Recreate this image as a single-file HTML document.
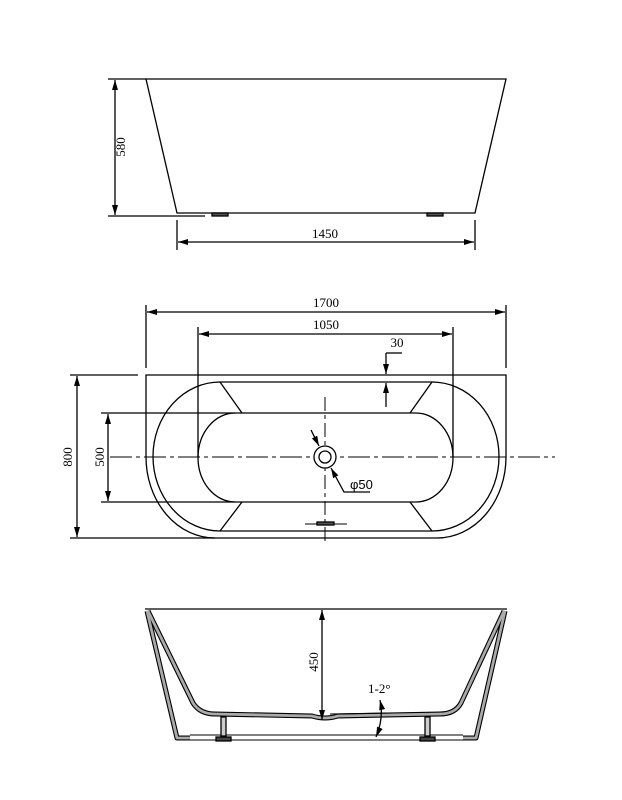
<!DOCTYPE html>
<html><head><meta charset="utf-8"><style>
html,body{margin:0;padding:0;background:#fff;}
svg{display:block;}
text{font-family:"Liberation Serif",serif;font-size:13px;fill:#000;}
.s{font-family:"Liberation Sans",sans-serif;}
</style></head><body>
<svg width="622" height="800" viewBox="0 0 622 800" xmlns="http://www.w3.org/2000/svg">
<defs>
<marker id="a" viewBox="0 0 10 6" refX="10" refY="3" markerWidth="10" markerHeight="6" orient="auto-start-reverse" markerUnits="userSpaceOnUse"><path d="M0,0 L10,3 L0,6 z" fill="#000"/></marker>
</defs>
<g fill="none" stroke="#000" stroke-width="1.3">
<path d="M146,79 L506,79 L475,213 L177,213 Z"/>
<line x1="108" y1="79" x2="146" y2="79"/>
<line x1="108" y1="216" x2="205" y2="216"/>
<line x1="115" y1="80" x2="115" y2="215" marker-start="url(#a)" marker-end="url(#a)"/>
<rect x="212" y="213" width="16" height="3" fill="#555"/>
<rect x="427" y="213" width="16" height="3" fill="#555"/>
<line x1="177" y1="220" x2="177" y2="250"/>
<line x1="475" y1="220" x2="475" y2="250"/>
<line x1="178" y1="242" x2="474" y2="242" marker-start="url(#a)" marker-end="url(#a)"/>

<line x1="146" y1="305" x2="146" y2="368"/>
<line x1="506" y1="305" x2="506" y2="368"/>
<line x1="147" y1="312" x2="505" y2="312" marker-start="url(#a)" marker-end="url(#a)"/>
<line x1="198" y1="327" x2="198" y2="457"/>
<line x1="453" y1="327" x2="453" y2="457"/>
<line x1="199" y1="334" x2="452" y2="334" marker-start="url(#a)" marker-end="url(#a)"/>
<path d="M146,375 L506,375 L506,457 A69,81 0 0 1 437,538 L215,538 A69,81 0 0 1 146,457 Z"/>
<path d="M220,382 L432,382 A67,74.5 0 0 1 432,531 L220,531 A67,74.5 0 0 1 220,382 Z"/>
<path d="M235,413 L416,413 A37,44.5 0 0 1 416,502 L235,502 A37,44.5 0 0 1 235,413 Z"/>
<line x1="220" y1="382" x2="242" y2="413"/>
<line x1="432" y1="382" x2="410" y2="413"/>
<line x1="242" y1="502" x2="220" y2="531"/>
<line x1="410" y1="502" x2="432" y2="531"/>
<line x1="101" y1="413" x2="235" y2="413"/>
<line x1="101" y1="502" x2="235" y2="502"/>
<line x1="108" y1="414" x2="108" y2="501" marker-start="url(#a)" marker-end="url(#a)"/>
<line x1="70" y1="375" x2="138" y2="375"/>
<line x1="70" y1="538" x2="215" y2="538"/>
<line x1="77" y1="376" x2="77" y2="537" marker-start="url(#a)" marker-end="url(#a)"/>
<line x1="110" y1="457" x2="555" y2="457" stroke-width="1" stroke-dasharray="22,4,4,4"/>
<line x1="325" y1="397" x2="325" y2="545" stroke-width="1" stroke-dasharray="14,4,4,4"/>
<circle cx="325" cy="457" r="11" fill="#fff"/>
<circle cx="325" cy="457" r="6"/>
<line x1="311" y1="430" x2="319" y2="446" marker-end="url(#a)"/>
<polyline points="331,468 344,492 370,492" marker-start="url(#a)"/>
<line x1="386" y1="353" x2="386" y2="374" marker-end="url(#a)"/>
<line x1="386" y1="407" x2="386" y2="383" marker-end="url(#a)"/>
<line x1="386" y1="353" x2="402" y2="353"/>
<line x1="305" y1="524" x2="347" y2="524" stroke-width="1"/>
<rect x="317" y="522" width="17" height="3" fill="#555"/>

<line x1="145" y1="609" x2="507" y2="609"/>
<g stroke="#000" stroke-width="5" stroke-linejoin="round">
<path d="M147,611 L177,738 L190,738"/>
<path d="M505,611 L476,738 L463,738"/>
<path d="M148,611 L193,703 Q200,714 215,714 L312,716 Q325,720 338,716 L440,714 Q455,714 461,703 L504,611"/>
</g>
<g stroke="#aaa" stroke-width="2.8" stroke-linejoin="round">
<path d="M147,611 L177,738 L190,738"/>
<path d="M505,611 L476,738 L463,738"/>
<path d="M148,611 L193,703 Q200,714 215,714 L312,716 Q325,720 338,716 L440,714 Q455,714 461,703 L504,611"/>
</g>
<line x1="190" y1="735" x2="463" y2="735" stroke-width="1"/>
<line x1="190" y1="740" x2="463" y2="740" stroke-width="1"/>
<rect x="221" y="717" width="5" height="19" fill="#ccc"/>
<rect x="216" y="737" width="15" height="4" fill="#444"/>
<rect x="425" y="717" width="5" height="19" fill="#ccc"/>
<rect x="420" y="737" width="15" height="4" fill="#444"/>
<line x1="322" y1="610" x2="322" y2="720" marker-start="url(#a)" marker-end="url(#a)"/>
<line x1="330" y1="714" x2="390" y2="713" stroke-width="1"/>
<path d="M380,700 Q384,718 376,737" marker-start="url(#a)" marker-end="url(#a)"/>
</g>
<text x="325" y="238" text-anchor="middle">1450</text>
<text transform="translate(125,147) rotate(-90)" text-anchor="middle">580</text>
<text x="326" y="307" text-anchor="middle">1700</text>
<text x="326" y="329" text-anchor="middle">1050</text>
<text x="397" y="347" text-anchor="middle">30</text>
<text transform="translate(104,457) rotate(-90)" text-anchor="middle">500</text>
<text transform="translate(72,457) rotate(-90)" text-anchor="middle">800</text>
<text x="350" y="489" class="s">φ50</text>
<text transform="translate(318,662) rotate(-90)" text-anchor="middle">450</text>
<text x="368" y="693">1-2°</text>
</svg>
</body></html>
